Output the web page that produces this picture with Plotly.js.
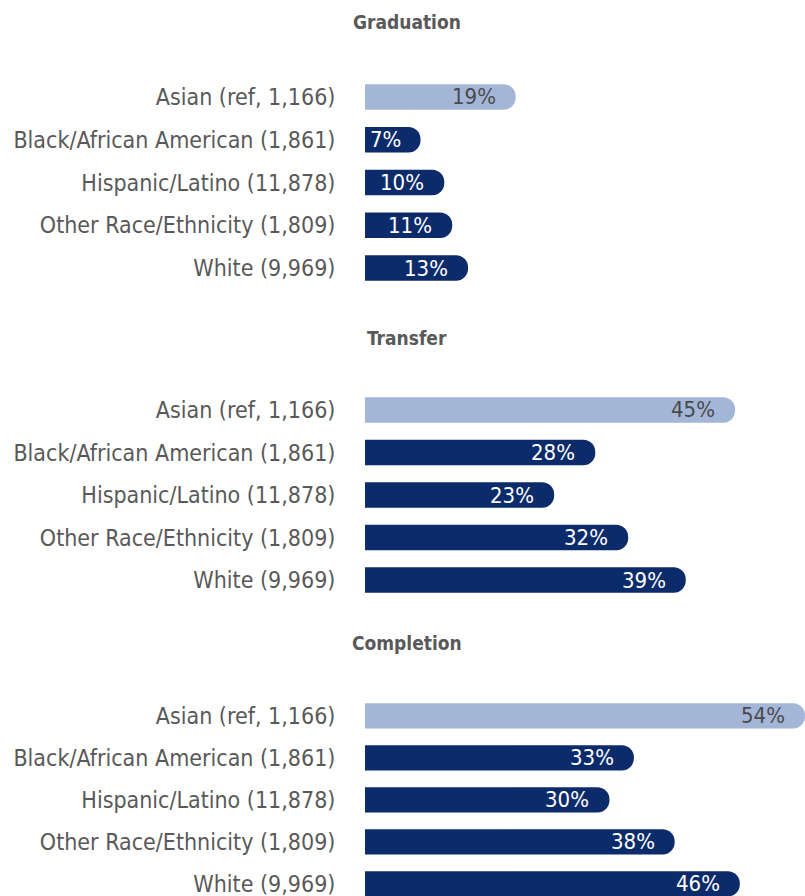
<!DOCTYPE html>
<html><head><meta charset="utf-8">
<script src="https://cdn.plot.ly/plotly-3.0.1.min.js"></script>
<style>html,body{margin:0;padding:0;background:#fff}#chart{width:805px;height:896px}</style>
</head><body><div id="chart"></div>
<script>
const categories = ["Asian (ref, 1,166)", "Black/African American (1,861)", "Hispanic/Latino (11,878)", "Other Race/Ethnicity (1,809)", "White (9,969)"];
const panelTitles = ["Graduation", "Transfer", "Completion"];
const graduation = [19, 7, 10, 11, 13];
const transfer = [45, 28, 23, 32, 39];
const completion = [54, 33, 30, 38, 46];
const series = [graduation, transfer, completion];

const FONT = "Liberation Sans Narrow, DejaVu Sans Condensed, Arial Narrow, sans-serif";
const LIGHT = "#a4b6d8", DARK = "#0c2b6b";
const colors = categories.map((c, i) => i === 0 ? LIGHT : DARK);
const textColors = categories.map((c, i) => i === 0 ? "#4a4a4a" : "#ffffff");

const traces = series.map((vals, k) => ({
  type: "bar", orientation: "h",
  x: vals, y: categories,
  xaxis: k === 0 ? "x" : "x" + (k + 1),
  yaxis: k === 0 ? "y" : "y" + (k + 1),
  marker: {color: colors, cornerradius: 12},
  width: 0.6,
  cliponaxis: false,
  hoverinfo: "none"
}));

const H = 896;
function paperY(px) { return (H - px) / H; }
const yAx = (top, bottom, range) => ({
  domain: [paperY(bottom), paperY(top)],
  range: range, type: "category",
  showgrid: false, zeroline: false, showline: false,
  ticks: "outside", ticklen: 24, tickcolor: "rgba(0,0,0,0)",
  tickfont: {family: FONT, size: 23, color: "#595959"}
});
const xAx = (range, anchor) => ({
  range: range, visible: false, anchor: anchor, fixedrange: true
});

const valueLabels = [];
series.forEach((vals, k) => {
  const sfx = k === 0 ? "" : String(k + 1);
  vals.forEach((v, i) => valueLabels.push({
    text: v + "%", x: v, y: categories[i], xref: "x" + sfx, yref: "y" + sfx,
    xanchor: "right", yanchor: "middle", xshift: -18, yshift: 0, showarrow: false,
    font: {family: FONT, size: 22, color: textColors[i]}
  }));
});

const titleAnns = panelTitles.map((t, k) => ({
  text: t, xref: "paper", yref: "paper",
  x: (407 - 365) / 440, y: paperY([22, 338, 643][k]),
  xanchor: "center", yanchor: "middle", showarrow: false,
  font: {family: FONT, size: 19, color: "#595959", weight: "bold"}
}));

const layout = {
  width: 805, height: 896,
  margin: {l: 365, r: 0, t: 0, b: 0},
  paper_bgcolor: "#fff", plot_bgcolor: "#fff",
  showlegend: false, bargap: 0.4,
  xaxis: xAx([0, 55.5], "y"),
  xaxis2: xAx([0, 53.5], "y2"),
  xaxis3: xAx([0, 54], "y3"),
  yaxis: yAx(75.6, 289.4, [4.5, -0.5]),
  yaxis2: yAx(388.7, 601.3, [4.5, -0.5]),
  yaxis3: yAx(694.8, 896, [4.29, -0.5]),
  annotations: titleAnns.concat(valueLabels)
};

Plotly.newPlot("chart", traces, layout, {displayModeBar: false, staticPlot: true});
</script></body></html>
